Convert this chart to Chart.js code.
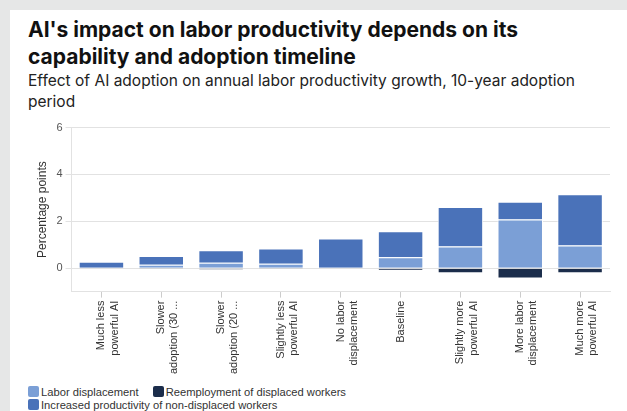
<!DOCTYPE html>
<html>
<head>
<meta charset="utf-8">
<script src="https://cdn.jsdelivr.net/npm/chart.js@4"></script>
<style>
  body { margin: 0; background: #e6e7e7; width: 627px; height: 411px; overflow: hidden; }
  #card { position: absolute; left: 10px; top: 10px; width: 640px; height: 420px; background: #fff; }
  #title { position: absolute; left: 18px; top: 6px; width: 560px; font-family: Inter, sans-serif; font-weight: 700; font-size: 21px; line-height: 27px; color: #111; }
  #subtitle { position: absolute; left: 18px; top: 60px; width: 590px; font-family: Inter, sans-serif; font-size: 15.5px; line-height: 21px; color: #222; }
  #box { position: absolute; left: 21px; top: 108px; width: 590px; height: 259px; }
  #legend { position: absolute; left: 18px; top: 376px; width: 340px; font-family: "Liberation Sans", Arial, sans-serif; font-size: 11.2px; color: #333; line-height: 13px; }
  .item { display: inline-block; margin-right: 14px; white-space: nowrap; }
  .sw { display: inline-block; width: 11px; height: 11px; border-radius: 2px; vertical-align: -1px; margin-right: 2px; }
</style>
</head>
<body>
<div id="card">
  <div id="title">AI's impact on labor productivity depends on its capability and adoption timeline</div>
  <div id="subtitle">Effect of AI adoption on annual labor productivity growth, 10-year adoption period</div>
  <div id="box"><canvas id="myChart"></canvas></div>
  <div id="legend"></div>
</div>
<script>
var categories = [
    ["Much less", "powerful AI"],
    ["Slower", "adoption (30 ..."],
    ["Slower", "adoption (20 ..."],
    ["Slightly less", "powerful AI"],
    ["No labor", "displacement"],
    ["Baseline"],
    ["Slightly more", "powerful AI"],
    ["More labor", "displacement"],
    ["Much more", "powerful AI"]
];
var seriesNames = ["Labor displacement", "Reemployment of displaced workers", "Increased productivity of non-displaced workers"];
var laborDisplacement = [0, 0.15, 0.23, 0.19, 0, 0.47, 0.93, 2.08, 0.97];
var reemployment = [0, -0.05, -0.07, -0.05, 0, -0.11, -0.22, -0.44, -0.22];
var increasedProductivity = [0.27, 0.37, 0.54, 0.65, 1.27, 1.11, 1.68, 0.76, 2.19];
var yTicks = [0, 2, 4, 6];
var colors = ["#7b9fd6", "#1b2d4b", "#4a72b9"];

var allValues = [laborDisplacement, reemployment, increasedProductivity];
var dataSet = new Array();
for (var i = 0; i < seriesNames.length; i++) {
    dataSet.push({
        label: seriesNames[i],
        data: allValues[i],
        backgroundColor: colors[i],
        borderColor: "#ffffff",
        borderWidth: 1,
        categoryPercentage: 0.8,
        barPercentage: 0.95
    });
}

var ctx = document.getElementById("myChart").getContext('2d');
var chart = new Chart(ctx, {
    type: 'bar',
    data: { labels: categories, datasets: dataSet },
    options: {
        responsive: true,
        maintainAspectRatio: false,
        animation: false,
        layout: { padding: { top: 4, right: 11 } },
        plugins: { legend: { display: false }, tooltip: { enabled: false } },
        scales: {
            x: {
                stacked: true,
                grid: { display: true, offset: false, drawOnChartArea: false, color: "#cccccc", tickLength: 6 },
                border: { color: "#e2e2e2" },
                ticks: {
                    maxRotation: 90, minRotation: 90,
                    color: "#333",
                    font: { family: "'Liberation Sans', Arial, sans-serif", size: 11 }
                }
            },
            y: {
                stacked: true,
                min: -1,
                max: 6,
                afterBuildTicks: function(axis) {
                    axis.ticks = yTicks.map(function(v) { return { value: v }; });
                },
                grid: { color: "#e2e2e2", tickLength: 6 },
                border: { color: "#e2e2e2" },
                ticks: {
                    color: "#555",
                    font: { family: "'Liberation Sans', Arial, sans-serif", size: 11 }
                },
                title: {
                    display: true,
                    text: "Percentage points",
                    color: "#333",
                    font: { family: "'Liberation Sans', Arial, sans-serif", size: 12 }
                }
            }
        }
    }
});

var legendDiv = document.getElementById('legend');
for (var j = 0; j < dataSet.length; j++) {
    var item = document.createElement('span');
    item.className = 'item';
    item.innerHTML = '<span class="sw" style="background:' + dataSet[j].backgroundColor + '"></span>' + dataSet[j].label;
    legendDiv.appendChild(item);
}
</script>
</body>
</html>
